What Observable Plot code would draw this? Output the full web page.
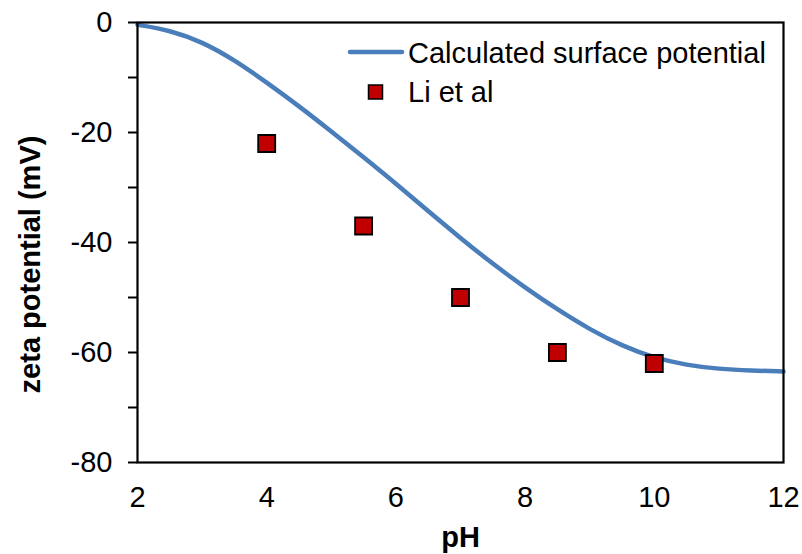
<!DOCTYPE html>
<html>
<head>
<meta charset="utf-8">
<script src="https://cdn.jsdelivr.net/npm/d3@7"></script>
<script src="https://cdn.jsdelivr.net/npm/@observablehq/plot@0.6"></script>
<style>
  html, body { margin: 0; padding: 0; background: #fff; }
  #chart { position: relative; width: 802px; height: 554px; }
</style>
</head>
<body>
<div id="chart"></div>
<script>
// Calculated surface potential curve
const curvePH   = [2, 2.5, 3, 3.5, 4, 4.5, 5, 5.5, 6, 6.5, 7, 7.5, 8, 8.5, 9, 9.5, 10, 10.5, 11, 11.5, 12];
const curveZeta = [-0.4, -1.4, -3.5, -6.8, -10.9, -15.2, -19.8, -24.5, -29.3, -34.3, -39.2, -43.9, -48.2, -52.2, -55.8, -58.8, -61.0, -62.3, -63.0, -63.3, -63.45];
// Li et al measurements
const liPH   = [4, 5.5, 7, 8.5, 10];
const liZeta = [-22, -37, -50, -60, -62];
// Tick values
const xTicks = [2, 4, 6, 8, 10, 12];
const yTicks = [-80, -70, -60, -50, -40, -30, -20, -10, 0];
const yLabelTicks = [-80, -60, -40, -20, 0];
const seriesNames = ["Calculated surface potential", "Li et al"];
const xTitle = "pH";
const yTitle = "zeta potential (mV)";

const curve = curvePH.map((x, i) => ({x, y: curveZeta[i]}));
const li = liPH.map((x, i) => ({x, y: liZeta[i]}));

const lineColor = "#4A7EBB";
const dotColor = "#C00000";
const font = "'Liberation Sans', Arial, sans-serif";
const fs = 29;

const plot = Plot.plot({
  width: 802,
  height: 554,
  marginLeft: 137,
  marginRight: 19,
  marginTop: 22,
  marginBottom: 92,
  style: {fontFamily: font, fontSize: fs + "px", color: "#000", background: "#fff"},
  x: {domain: [2, 12]},
  y: {domain: [-80, 0]},
  marks: [
    Plot.line(curve, {x: "x", y: "y", stroke: lineColor, strokeWidth: 4.5, curve: "basis"}),
    Plot.dot(li, {x: "x", y: "y", symbol: "square", r: 9.6, fill: dotColor, stroke: "#000", strokeWidth: 1.8}),
    Plot.frame({stroke: "#000", strokeWidth: 2.2}),
    Plot.axisY({ticks: yTicks, tickSize: 9, tickPadding: 16, strokeWidth: 2,
      tickFormat: d => yLabelTicks.includes(d) ? String(d) : "", label: null, fontSize: fs}),
    Plot.axisX({ticks: xTicks, tickSize: 0, tickPadding: 24, tickFormat: d => String(d), label: null, fontSize: fs}),
    Plot.text([xTitle], {frameAnchor: "bottom", textAnchor: "middle", lineAnchor: "top", dy: 64, fontWeight: "bold", fontSize: fs}),
    Plot.text([yTitle], {frameAnchor: "left", textAnchor: "middle", rotate: -90, dx: -107, dy: 22, fontWeight: "bold", fontSize: fs})
  ]
});
document.getElementById("chart").appendChild(plot);

// Legend drawn inside the plot area
const svg = d3.select(plot);
const lg = svg.append("g").attr("font-family", font).attr("font-size", fs)
  .attr("fill", "#000").attr("text-anchor", "start");
lg.append("line").attr("x1", 350).attr("x2", 402).attr("y1", 52).attr("y2", 52)
  .attr("stroke", lineColor).attr("stroke-width", 4.5).attr("stroke-linecap", "round");
lg.append("text").attr("x", 408).attr("y", 63).text(seriesNames[0]);
lg.append("rect").attr("x", 368.5).attr("y", 85).attr("width", 14).attr("height", 14)
  .attr("fill", dotColor).attr("stroke", "#000").attr("stroke-width", 1.5);
lg.append("text").attr("x", 408).attr("y", 102).text(seriesNames[1]);
</script>
</body>
</html>
